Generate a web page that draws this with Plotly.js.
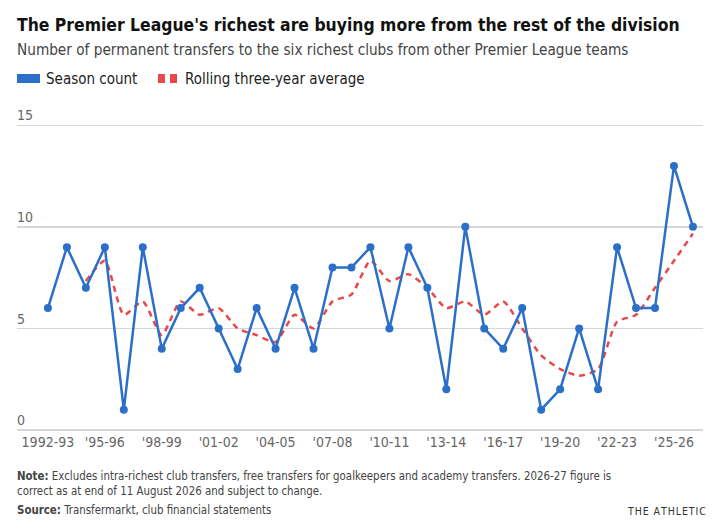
<!DOCTYPE html>
<html>
<head>
<meta charset="utf-8">
<script src="https://cdn.plot.ly/plotly-3.0.1.min.js"></script>
<style>
html,body{margin:0;padding:0;background:#fff;}
#chart{width:720px;height:529px;}
</style>
</head>
<body>
<div id="chart"></div>
<script>
var seasons = ["1992-93","1993-94","1994-95","1995-96","1996-97","1997-98","1998-99","1999-00","2000-01","2001-02","2002-03","2003-04","2004-05","2005-06","2006-07","2007-08","2008-09","2009-10","2010-11","2011-12","2012-13","2013-14","2014-15","2015-16","2016-17","2017-18","2018-19","2019-20","2020-21","2021-22","2022-23","2023-24","2024-25","2025-26","2026-27"];
var seasonCount = [6,9,7,9,1,9,4,6,7,5,3,6,4,7,4,8,8,9,5,9,7,2,10,5,4,6,1,2,5,2,9,6,6,13,10];
var rollingAvg = [null,null,7.33,8.33,5.67,6.33,4.67,6.33,5.67,6.0,5.0,4.67,4.33,5.67,5.0,6.33,6.67,8.33,7.33,7.67,7.0,6.0,6.33,5.67,6.33,5.0,3.67,3.0,2.67,3.0,5.33,5.67,7.0,8.33,9.67];
var tickSeasons = ["1992-93","1995-96","1998-99","2001-02","2004-05","2007-08","2010-11","2013-14","2016-17","2019-20","2022-23","2025-26"];
var tickLabels = ["1992-93","'95-96","'98-99","'01-02","'04-05","'07-08","'10-11","'13-14","'16-17","'19-20","'22-23","'25-26"];
var yTicks = [0,5,10,15];

var BLUE = "#2b6fc9", RED = "#e8484a";
var FONT = "'DejaVu Sans Condensed', 'DejaVu Sans', sans-serif";

var traces = [
  {x: seasons, y: rollingAvg, type: "scatter", mode: "lines", name: "Rolling three-year average",
   line: {color: RED, width: 2.5, dash: "6px,5px", shape: "spline", smoothing: 0.6}, hoverinfo: "skip", connectgaps: false},
  {x: seasons, y: seasonCount, type: "scatter", mode: "lines+markers", name: "Season count",
   line: {color: BLUE, width: 2.5}, marker: {color: BLUE, size: 8}}
];

var layout = {
  width: 720, height: 529,
  margin: {l: 17, r: 17, t: 105, b: 97},
  paper_bgcolor: "#fff", plot_bgcolor: "#fff",
  showlegend: false,
  font: {family: FONT, color: "#555"},
  xaxis: {type: "category", categoryarray: seasons, range: [-1.63, 34.53],
    tickvals: tickSeasons, ticktext: tickLabels, showgrid: false, zeroline: false,
    showline: false, ticks: "", tickfont: {size: 14, color: "#666", family: FONT}},
  yaxis: {range: [-0.1, 16], tickvals: yTicks, showgrid: true, gridcolor: "#d6d6d6", gridwidth: 1.3,
    zeroline: false, showline: false, ticks: "", ticklabelposition: "inside top", ticklabelstandoff: -3,
    tickfont: {size: 14, color: "#666", family: FONT}, fixedrange: true},
  shapes: [
    {type: "rect", xref: "paper", yref: "paper", x0: 0, x1: 0.0335, y0: 1.0673, y1: 1.0948, fillcolor: BLUE, line: {width: 0}},
    {type: "rect", xref: "paper", yref: "paper", x0: 0.2055, x1: 0.2157, y0: 1.0673, y1: 1.0948, fillcolor: RED, line: {width: 0}},
    {type: "rect", xref: "paper", yref: "paper", x0: 0.2230, x1: 0.2332, y0: 1.0673, y1: 1.0948, fillcolor: RED, line: {width: 0}}
  ],
  annotations: [
    {xref: "paper", yref: "paper", x: 0, y: 1.2447, xanchor: "left", yanchor: "middle", showarrow: false, xshift: -2,
     text: "<b>The Premier League's richest are buying more from the rest of the division</b>", font: {size: 17.4, color: "#121212", family: FONT}},
    {xref: "paper", yref: "paper", x: 0, y: 1.1683, xanchor: "left", yanchor: "middle", showarrow: false, xshift: -2,
     text: "Number of permanent transfers to the six richest clubs from other Premier League teams", font: {size: 15.2, color: "#444", family: FONT}},
    {xref: "paper", yref: "paper", x: 0.0423, y: 1.0795, xanchor: "left", yanchor: "middle", showarrow: false, xshift: -2,
     text: "Season count", font: {size: 15, color: "#222", family: FONT}},
    {xref: "paper", yref: "paper", x: 0.2449, y: 1.0795, xanchor: "left", yanchor: "middle", showarrow: false, xshift: -2,
     text: "Rolling three-year average", font: {size: 15, color: "#222", family: FONT}},
    {xref: "paper", yref: "paper", x: 0, y: -0.107, xanchor: "left", yanchor: "top", align: "left", showarrow: false, xshift: -2,
     text: "<b>Note:</b> Excludes intra-richest club transfers, free transfers for goalkeepers and academy transfers. 2026-27 figure is<br>correct as at end of 11 August 2026 and subject to change.", font: {size: 11.4, color: "#444", family: FONT}},
    {xref: "paper", yref: "paper", x: 0, y: -0.2385, xanchor: "left", yanchor: "middle", showarrow: false, xshift: -2,
     text: "<b>Source:</b> Transfermarkt, club financial statements", font: {size: 11.4, color: "#444", family: FONT}},
    {xref: "paper", yref: "paper", x: 1, y: -0.2416, xanchor: "right", yanchor: "middle", showarrow: false, xshift: 5,
     text: "T\u200AH\u200AE\u2009 A\u200AT\u200AH\u200AL\u200AE\u200AT\u200AI\u200AC", font: {size: 10.5, color: "#333", family: FONT}}
  ]
};

Plotly.newPlot("chart", traces, layout, {displayModeBar: false, staticPlot: true});
</script>
</body>
</html>
